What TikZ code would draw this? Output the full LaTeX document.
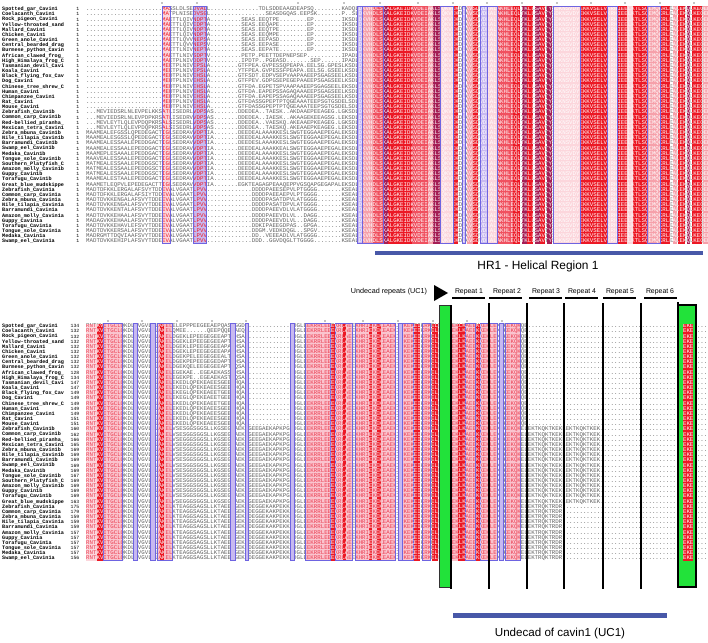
\documentclass[tikz,border=0pt]{standalone}
\usepackage{fontspec}
\newfontfamily\seqf{Liberation Mono}
\newfontfamily\labf{Liberation Sans}
\definecolor{cR}{RGB}{236,24,36}
\definecolor{cM}{RGB}{240,80,95}
\definecolor{cP}{RGB}{246,160,170}
\definecolor{cQ}{RGB}{250,196,206}
\definecolor{cL}{RGB}{252,214,220}
\definecolor{cD}{RGB}{165,30,85}
\definecolor{cV}{RGB}{200,185,240}
\definecolor{cBox}{RGB}{110,100,225}
\definecolor{cGreen}{RGB}{34,226,58}
\definecolor{cBar}{RGB}{72,88,168}
\definecolor{cTxt}{RGB}{95,95,95}
\definecolor{cRedTxt}{RGB}{235,60,80}
\newcommand{\rowcol}{cTxt}
\newcommand{\rowpfx}{tr}
\newcommand{\dotsTen}{..........}
\newcommand{\dotsFive}{.....}
\newcommand{\seqTB}{\dotsTen\dotsTen..}
\newcommand{\seqEM}{IGLSEDRAVVDPTIA.......}
\newcommand{\seqFM}{EVALVGAATLPVV.\dotsTen..}
\newcommand{\seqR}{LDKVHDLSKALGKEIDKVDEIAKLSQKVEKDLAVSDVDKALAKHLEQLTKLLSAVTYSDKNSVDYEKKVSELVKRHIEELKTLSQEMQKRLEALEKQLKEQEK}
\newcommand{\seqA}{RNTKVITGCLQKDLEVGVLRLAKEL}
\newcommand{\seqC}{KDGLEEKRRLEEEKRLAEEKHRIEKEKEAEKIRKEKEIKRKEL}
\newcommand{\seqD}{EKEKEKLKAEEKKEKLEKTKEKQ}
\newcommand{\seqG}{.EKE.....}
\newcommand{\seqHa}{KQE\dotsTen\dotsTen\dotsTen\dotsTen....}
\newcommand{\seqHb}{KELEKTKQKTKEKLEKTKQKTKEK\dotsTen\dotsTen...}
\newcommand{\seqHc}{KELEKTRQKTRDR\dotsTen\dotsTen\dotsTen....}
\newcommand{\trow}[2]{\node[seqrow] (\rowpfx#1) at (86,{9+5.16*(#1-1)}) {#2\seqR};}
\newcommand{\brow}[4]{\node[seqrow] (\rowpfx#1) at (86,{326+5.16*(#1-1)}) {\seqA#2#3\seqC\seqD#4\seqG};}
\newcommand{\toprows}{%
\trow{1}{\seqTB MASSLDLSEDVALL\dotsTen....TDLSDDEAAGDEAPSQ........KADQ}
\trow{2}{\seqTB MATPLNISEDVSGL\dotsTen......SEASDGQAS.EEPSK\dotsFive..P..S}
\trow{3}{\seqTB MAETTLQIVNDPTA\dotsFive....SEAS.EEQTPE........EP........IKSD}
\trow{4}{\seqTB MAETTLQIVEDPTA\dotsFive....SEAS.EEQAPE........EP........IKSD}
\trow{5}{\seqTB MAETTLQIVNDPTA\dotsFive....SEAS.EEQTPE........EP........IKSD}
\trow{6}{\seqTB MAETTLQIVNDPTA\dotsFive....SEAS.EEQMPE........EP........IKSD}
\trow{7}{\seqTB MAETTLQVVNEPSA\dotsFive....SEAS.EEPASD........EP........IKSD}
\trow{8}{\seqTB MAETTLQVVNEPSV\dotsFive....SEAS.EEPASE........EP........IKSD}
\trow{9}{\seqTB MAETTLNIVNEPTA\dotsFive....SEAS.EEPATE........EP........IKSD}
\trow{10}{\seqTB MAETTLNIVSDPTV\dotsFive....PETP.PEETTDEPNEPSEP\dotsTen{}IPAD}
\trow{11}{\seqTB MAETPLNIVDDPTV\dotsFive....IPDTP..PGEASD\dotsFive..SEP\dotsFive.IPAD}
\trow{12}{\seqTB MEETPLNIVEPSLA\dotsFive...GTFPEA.GVPESSQPEAPA.EELSG.GPESLKSD}
\trow{13}{\seqTB MEETPLNIVEPSLA\dotsFive...YTFPEA.GVPESSFPEAPA.EELSG.GSEELKSD}
\trow{14}{\seqTB MEDTPLNIVEHSLA\dotsFive...GTFSDT.EDPVSEPVAAPAAEEPSGAGSEELKSD}
\trow{15}{\seqTB MEDTPLNIVEHSLA\dotsFive...GTFPEV.GDPGSEPEGEPAAEEPSGAGSEELKSD}
\trow{16}{\seqTB MEDTPLNIVEHSLA\dotsFive...GTFDA.EGPETSPVAAPAAEEPSGAGSEELEKSD}
\trow{17}{\seqTB MEDTPLNIVEHSLA\dotsFive...GTFDA.EAPEPSSAGAQAAAEEPSGAGSEELKSD}
\trow{18}{\seqTB MEDTPLNIVEHSLA\dotsFive...GTFDA.EAPEPSSAGAQAAAEEPSGAGSEELKSD}
\trow{19}{\seqTB MEDTPLNIVEHSLA\dotsFive...GTFDASSGPEPTPTQGEAAATEEPSGTGSDELSD}
\trow{20}{\seqTB MEDTPLNIVEHSLA\dotsFive...GTFDASSGPEPTPTQGEAAATEEPSGTGSDELSD}
\trow{21}{...MEVIEDSRLNLEVPELKKSATLISEDRLVDPSAS.......DDEDEA..TAESK..AKDAAEPEEAGEG.LGKSD}
\trow{22}{...MEVIEDSRLNLEVPDPKRSATLISEDRVVDPSAS.......DDEDEA..IAESK..AKAAGEKEEAGSG.LEKSD}
\trow{23}{...MEVLEYTLQLEVPDQPKRSALSISEDRLVDPSAS.......DDEDEA..VAESKQ.AKEAAEPKEAGEG.LGKSD}
\trow{24}{...MEVLEYTLQLEVPDQPKRSALSISEDRLVDPSAS.......DDEDEA..TAESKQ.AKEAAEPKEAGEG.LEKSD}
\trow{25}{MAAMEALEFGSSLQPEDEGACT\seqEM DEEDEALAAAKKESLSWGTEGGAAEPEGALEKSD}
\trow{26}{MAAMEALESGSSLQPEDEGACT\seqEM DEEDEALAAAKKESLSWGTEGGAAEPEGALEKSD}
\trow{27}{MAAMEALESSAALEPEDDGACT\seqEM DEEDESLAAAKKESLSWGTEGGAAEPEGALEKSD}
\trow{28}{MAAMEALESSAALEPEDDGACT\seqEM DEEDEALAAAKKEALSWGTEGGAAEPEGALEKSD}
\trow{29}{MAAMEPLESAAALEPEDDGACT\seqEM DEEDEALAAAKKESLSWGTEGGAAEPEGALEKSD}
\trow{30}{MAAVEALESSAALEPEDDGACT\seqEM DEEDEALAAAKKESLSWGTEGGAAEPEGALEKSD}
\trow{31}{MATMEALESSAALEPEDDGSCT\seqEM DEEDEALAAAKKESLSWGTEGGAAEPEGALEKSD}
\trow{32}{MATMEALESSAALEPEDDGSCT\seqEM DEEDEALAAAKKESLSWGTEGGAAEPEGALEKSD}
\trow{33}{MATMEALESSAALEPEDDGSCT\seqEM DEEDEALAAAKKESLSWGTEGGAAEPEGALEKSD}
\trow{34}{MAAMEALESTAALEPEDDGACT\seqEM DEEDEALAAAKKESLSWGTEGGAAEPEGALEKSD}
\trow{35}{MAAMETLEQPVLEPEDEGACTT\seqEM EGKTEAGAGPEAAQEPPVGSQAPGEGAPALEKSD}
\trow{36}{MADTDFKKLERGALAFSVYTDD\seqFM DDDDPAEESEPVLPTGGGG.......KSEA}
\trow{37}{MADTDFKKLERGALAFSIYTDD\seqFM DDDDPAEEAEPVLPTGGGG.......KSEA}
\trow{38}{MADTDVKKENGALAFSVYTDDE\seqFM DDDDPASATDPVLATGGGG.......KSEA}
\trow{39}{MADTDVKKENGALAFSVYTDDE\seqFM DDDDPASATDPVLATGGGG.......KSEA}
\trow{40}{MADTDVKKENTALAFSVYTDDE\seqFM DDDDPAEEVDLVLATGGGG.......KSEA}
\trow{41}{MADTDVKKEHAALAFSVYTDDE\seqFM DDDDPAEEVDLVL..DAGG.......KSEA}
\trow{42}{MADAGVKKEHAALAFSVYTDDE\seqFM DDDDPAEEVDLVL..DAGG.......KSEA}
\trow{43}{MADTDVKKEHAVLEFSVYTDDE\seqFM DDKIPAEEGDPAS..GPGA.......KSEA}
\trow{44}{MADTDVKKERSALAFSVYTDDE\seqFM DDGM.VEDKDQGL..SPGV.......KSEA}
\trow{45}{MADRGMTTDQVIAAFSVYTDDE\seqFM DD..VEEEADLVLATGGGG.......KSEA}
\trow{46}{MADTDVKKEHIPLAFSVYTDDE\seqFM DDD..GGVDQGLTTGGGG........KSEA}}
\newcommand{\bottomrows}{%
\brow{1}{ELEPPPEEGEEAEPQASQGGDE}{\dotsTen..}{\seqHa}
\brow{2}{QMEE......QEEPQQESAEQE}{\dotsTen..}{\seqHa}
\brow{3}{DGEKLEPEEGEGEEAPTDHSAE}{\dotsTen..}{\seqHa}
\brow{4}{DGEKLEPEEGEGEEAPTDHSAE}{\dotsTen..}{\seqHa}
\brow{5}{DGEKLEPEEGEGEEAPADHSAE}{\dotsTen..}{\seqHa}
\brow{6}{DGEKLEPEEGEGEEAPADHSAE}{\dotsTen..}{\seqHa}
\brow{7}{DGEKPELEEGEGEEALTEHSAE}{\dotsTen..}{\seqHa}
\brow{8}{DGEKPEPEEGEGEDAPTEHSAE}{\dotsTen..}{\seqHa}
\brow{9}{DGEKQELEEGEGEEAPTEQSAE}{\dotsTen..}{\seqHa}
\brow{10}{EGEKAE..EGEAEKASSEHSAE}{\dotsTen..}{\seqHa}
\brow{11}{EGEKPE..EGEAEKASTEQSAE}{\dotsTen..}{\seqHa}
\brow{12}{EKEDLQPEKEAEESGEEKHQAE}{\dotsTen..}{\seqHa}
\brow{13}{EKEDLQPEKEAEESGEEKHQAE}{\dotsTen..}{\seqHa}
\brow{14}{EKEGLQPEKEAEETGEEKHQAE}{\dotsTen..}{\seqHa}
\brow{15}{EKEGLQPEKEAEETGEEKHQAE}{\dotsTen..}{\seqHa}
\brow{16}{EKEDLQPEKEAEETGEEKHQAE}{\dotsTen..}{\seqHa}
\brow{17}{EKEDLQPEKEAEESGEEKHQAE}{\dotsTen..}{\seqHa}
\brow{18}{EKEDLQPEKEAEESGEEKHQAE}{\dotsTen..}{\seqHa}
\brow{19}{EKEDLQPEKEAEESGEEKHQAE}{\dotsTen..}{\seqHa}
\brow{20}{EKEDLQPEKEAEESGEEKHQAE}{\dotsTen..}{\seqHa}
\brow{21}{VSESGGSGGSLLKGSEGGAEKE}{GEEGAEKAPKPG}{\seqHb}
\brow{22}{VSESGGSGGSLLKGSEGGAEKE}{GEEGAEKAPKPG}{\seqHb}
\brow{23}{VSEGGGSGGSLLKGSEGGAEKE}{GEEGAEKAPKPG}{\seqHb}
\brow{24}{VSEGGGSGGSLLKGSEGGAEKE}{GEEGAEKAPKPG}{\seqHb}
\brow{25}{VSESGGSGGSLLKGSEGGAEKE}{GEEGAEKAPKPG}{\seqHb}
\brow{26}{VSESGGSGGSLLKGSEGGAEKE}{GEEGAEKAPKPG}{\seqHb}
\brow{27}{VSESGGSGGSLLKGSEGGAEKE}{GEEGAEKAPKPG}{\seqHb}
\brow{28}{VSESGGSGGSLLKGSEGGAEKE}{GEEGAEKAPKPG}{\seqHb}
\brow{29}{VSESGGSGGSLLKGSEGGAEKE}{GEEGAEKAPKPG}{\seqHb}
\brow{30}{VSESGGSGGSLLKGSEGGAEKE}{GEEGAEKAPKPG}{\seqHb}
\brow{31}{VSESGGSGGSLLKGSEGGAEKE}{GEEGAEKAPKPG}{\seqHb}
\brow{32}{VSESGGSGGSLLKGSEGGAEKE}{GEEGAEKAPKPG}{\seqHb}
\brow{33}{VSESGGSGGSLLKGSEGGAEKE}{GEEGAEKAPKPG}{\seqHb}
\brow{34}{VSESGGSGGSLLKGSEGGAEKE}{GEEGAEKAPKPG}{\seqHb}
\brow{35}{VSEGGGSGGSLLKGSEGGAEKE}{GEEGAEKAPKPG}{\seqHb}
\brow{36}{KTEAGGSAGSLLKTAEEGGEKE}{DEGGEKAKPEKK}{\seqHc}
\brow{37}{KTEAGGSAGSLLKTAEEGGEKE}{DEGGEKAKPEKK}{\seqHc}
\brow{38}{KTEAGGSAGSLLKTAEEGGEKE}{DEGGEKAKPEKK}{\seqHc}
\brow{39}{KTEAGGSAGSLLKTAEEGGEKE}{DEGGEKAKPEKK}{\seqHc}
\brow{40}{KTEAGGSAGSLLKTAEEGGEKE}{DEGGEKAKPEKK}{\seqHc}
\brow{41}{KTEAGGSAGSLLKTAEEGGEKE}{DEGGEKAKPEKK}{\seqHc}
\brow{42}{KTEAGGSAGSLLKTAEEGGEKE}{DEGGEKAKPEKK}{\seqHc}
\brow{43}{KTEAGGSAGSLLKTAEEGGEKE}{DEGGEKAKPEKK}{\seqHc}
\brow{44}{KTEAGGSAGSLLKTAEEGGEKE}{DEGGEKAKPEKK}{\seqHc}
\brow{45}{KTEAGGSAGSLLKTAEEGGEKE}{DEGGEKAKPEKK}{\seqHc}
\brow{46}{KTEAGGSAGSLLKTAEEGGEKE}{DEGGEKAKPEKK}{\seqHc}}
\tikzset{
  seqrow/.style={anchor=west, inner sep=0pt, text=\rowcol, font=\seqf\fontsize{5.75}{6}\selectfont, text height=3.8pt, text depth=0.4pt},
  namestyle/.style={anchor=west, inner sep=0pt, text=black, font=\seqf\bfseries\fontsize{5.15}{6}\selectfont, text height=3.6pt, text depth=0.4pt},
  numstyle/.style={anchor=east, inner sep=0pt, text=black, font=\seqf\fontsize{4.8}{6}\selectfont, text height=3.4pt, text depth=0pt},
  boxline/.style={draw=cBox, line width=0.5pt},
  vline/.style={line width=2.2pt, black},
  replabel/.style={inner sep=0pt, font=\labf\fontsize{6.9}{8}\selectfont},
}
\begin{document}
\begin{tikzpicture}[x=1pt, y=-1pt]
\useasboundingbox (0,0) rectangle (708,642);
\fill[white] (0,0) rectangle (708,642);

% conservation marks
\foreach \x in {162,197,298,344,380,418,453,487,522,557,591,625,660,694} \fill (\x,3) circle (0.6);
\foreach \x in {108,142,177,212,246,325,363,398,433,467,502,687} \fill (\x,321) circle (0.6);

% names and numbers
\foreach \n [count=\i] in {Spotted\_gar\_Cavin1, Coelacanth\_Cavin1, Rock\_pigeon\_Cavin1, Yellow-throated\_sand, Mallard\_Cavin1, Chicken\_Cavin1, Green\_anole\_Cavin1, Central\_bearded\_drag, Burmese\_python\_Cavin, African\_clawed\_frog\_, High\_Himalaya\_frog\_C, Tasmanian\_devil\_Cavi, Koala\_Cavin1, Black\_flying\_fox\_Cav, Dog\_Cavin1, Chinese\_tree\_shrew\_C, Human\_Cavin1, Chimpanzee\_Cavin1, Rat\_Cavin1, Mouse\_Cavin1, Zebrafish\_Cavin1b, Common\_carp\_Cavin1b, Red-bellied\_piranha\_, Mexican\_tetra\_Cavin1, Zebra\_mbuna\_Cavin1b, Nile\_tilapia\_Cavin1b, Barramundi\_Cavin1b, Swamp\_eel\_Cavin1b, Medaka\_Cavin1b, Tongue\_sole\_Cavin1b, Southern\_Platyfish\_C, Amazon\_molly\_Cavin1b, Guppy\_Cavin1b, Torafugu\_Cavin1b, Great\_blue\_mudskippe, Zebrafish\_Cavin1a, Common\_carp\_Cavin1a, Zebra\_mbuna\_Cavin1a, Nile\_tilapia\_Cavin1a, Barramundi\_Cavin1a, Amazon\_molly\_Cavin1a, Guppy\_Cavin1a, Torafugu\_Cavin1a, Tongue\_sole\_Cavin1a, Medaka\_Cavin1a, Swamp\_eel\_Cavin1a}
{
  \node[namestyle] (nt\i) at (2,{9+5.16*(\i-1)}) {\n};
  \node[namestyle] (nb\i) at (2,{326+5.16*(\i-1)}) {\n};
  \node[numstyle] (mt\i) at (79.5,{9+5.16*(\i-1)}) {1};
}
\foreach \v [count=\i] in {134,132,132,132,132,132,132,132,132,128,134,147,147,149,149,149,149,149,151,151,160,162,166,165,169,169,169,169,169,167,169,169,169,169,163,175,179,159,159,159,157,157,157,157,157,156}
  \node[numstyle] (mb\i) at (79.5,{326+5.16*(\i-1)}) {\v};

% ---------- top block ----------
\begin{scope}
\clip (84,0) rectangle (708,250);
\toprows
\end{scope}
\foreach \a/\b/\c in {357/362/cV, 362/373/cP, 373/383/cM, 383/388/cD, 388/412/cR, 412/428/cM, 428/433/cP, 433/440/cD, 440/453/cL, 453/458/cR, 462/465/cV, 467/473/cP, 473/478/cR, 480/487/cV, 487/497/cL, 498/513/cM, 513/520/cR, 522/527/cD, 527/533/cR, 535/540/cD, 540/545/cR, 547/552/cD, 553/580/cL, 580/607/cR, 607/617/cL, 617/627/cR, 627/633/cL, 633/647/cR, 647/660/cP, 660/670/cR, 673/677/cP, 678/685/cR, 687/690/cD, 692/702/cR, 703/708/cP, 162/170/cL, 193/206/cV}
  \fill[\c] (\a,6.5) rectangle (\b,243.7);
% white letters in coloured columns
\begin{scope}
\renewcommand{\rowcol}{white}\renewcommand{\rowpfx}{tw}
\clip \foreach \a/\b in {357/362, 362/373, 373/383, 383/388, 388/412, 412/428, 428/433, 433/440, 440/453, 453/458, 462/465, 467/473, 473/478, 480/487, 487/497, 498/513, 513/520, 522/527, 527/533, 535/540, 540/545, 547/552, 553/580, 580/607, 607/617, 617/627, 627/633, 633/647, 647/660, 660/670, 673/677, 678/685, 687/690, 692/702, 703/708} {(\a,6.5) rectangle (\b,243.7)};
\toprows
\end{scope}
% red letters in boxed columns at left
\begin{scope}
\renewcommand{\rowcol}{cR}\renewcommand{\rowpfx}{tq}
\clip (162,6.5) rectangle (170,243.7) (193,6.5) rectangle (206,243.7);
\toprows
\end{scope}
\foreach \a/\b in {357/362, 362/383, 440/453, 462/465, 480/487, 487/497, 553/580, 607/617, 647/660, 162/170, 193/206}
  \draw[boxline] (\a,6.5) rectangle (\b,243.7);

% ---------- bottom block ----------
\begin{scope}
\clip (84,315) rectangle (708,570);
\bottomrows
\end{scope}
\foreach \a/\b/\c in {86/97/cL, 97/103/cR, 103/122/cQ, 133/137/cV, 150/155/cV, 157/172/cQ, 160/164/cR, 230/235/cV, 245/248/cV, 290/294/cV, 305/330/cQ, 330/335/cR, 335/352/cQ, 343/346/cR, 355/395/cQ, 369/372/cR, 377/381/cR, 398/402/cV, 402/413/cQ, 413/420/cR, 422/430/cQ, 432/438/cR, 451/458/cQ, 458/465/cR, 465/475/cQ, 476/480/cR, 480/497/cQ, 499/503/cV, 505/520/cQ}
  \fill[\c] (\a,323.5) rectangle (\b,560.7);
% red letters in light boxes
\begin{scope}
\renewcommand{\rowcol}{cRedTxt}\renewcommand{\rowpfx}{bq}
\clip \foreach \a/\b in {86/97, 103/122, 157/160, 164/172, 305/330, 335/343, 346/352, 355/369, 372/377, 381/395, 402/413, 422/430, 451/458, 465/475, 480/497, 505/520} {(\a,323.5) rectangle (\b,560.7)};
\bottomrows
\end{scope}
\foreach \a/\b in {103/122, 133/137, 150/155, 157/172, 230/235, 245/248, 290/294, 305/330, 335/352, 355/395, 398/402, 402/413, 422/430, 465/475, 480/497, 499/503, 505/520}
  \draw[boxline] (\a,323.5) rectangle (\b,560.7);

% green boxes and repeat separators
\filldraw[fill=cGreen, draw=black!80, line width=0.8pt] (439,305) rectangle (451,587);
\filldraw[fill=cGreen, draw=black, line width=1.2pt] (678,305) rectangle (696,587);
\fill[cR] (683,323.5) rectangle (693,560.7);
% white letters in red columns
\begin{scope}
\renewcommand{\rowcol}{white}\renewcommand{\rowpfx}{bw}
\clip \foreach \a/\b in {97/103, 160/164, 330/335, 343/346, 369/372, 377/381, 413/420, 432/438, 458/465, 476/480, 683/693} {(\a,323.5) rectangle (\b,560.7)};
\bottomrows
\end{scope}
\draw[vline] (451,305) -- (451,589);
\foreach \x in {489,527,564,603,641} \draw[vline] (\x,303) -- (\x,589);
\draw[line width=1.6pt] (678,302) -- (678,587);

% top annotation
\fill[cBar] (375,250.8) rectangle (703,255.3);
\node[inner sep=0pt, font=\labf\fontsize{11.9}{13}\selectfont] (hr1) at (538,266) {HR1 - Helical Region 1};

% undecad repeats
\node[inner sep=0pt, font=\labf\fontsize{7.2}{8}\selectfont] (undr) at (389,292) {Undecad repeats (UC1)};
\fill (434,285) -- (448,293) -- (434,301) -- cycle;
\foreach \x/\t [count=\k] in {469/Repeat 1, 507/Repeat 2, 546/Repeat 3, 582/Repeat 4, 620/Repeat 5, 660/Repeat 6}
  \node[replabel] (rep\k) at (\x,291.5) {\t};
\foreach \a/\b in {452/485, 489/522, 529/562, 565/598, 603/636, 644/677}
  \draw[line width=2.2pt] (\a,298) -- (\b,298);

% bottom annotation
\fill[cBar] (453,612.5) rectangle (667,617.5);
\node[inner sep=0pt, font=\labf\fontsize{11.6}{13}\selectfont] (uc1) at (560,633) {Undecad of cavin1 (UC1)};
\end{tikzpicture}
\end{document}
